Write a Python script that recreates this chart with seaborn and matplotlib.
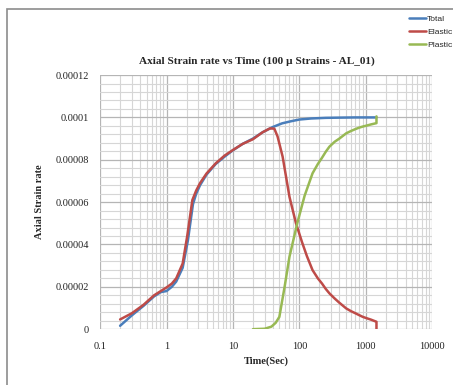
import numpy as np
import pandas as pd
import seaborn as sns
import matplotlib.pyplot as plt
import matplotlib.ticker as mticker
from matplotlib.patches import Rectangle

sns.set_theme(style="white")
plt.rcParams['font.family'] = ['Liberation Serif', 'DejaVu Serif']

# data
time_total = [0.2, 0.3, 0.45, 0.65, 0.82, 1.0, 1.2, 1.4, 1.75, 2.1, 2.5, 2.8, 3.2, 4, 5.5, 7.5,
              10, 14, 20, 28, 40, 55, 75, 100, 150, 250, 400, 700, 1000, 1450]
total = [1.6e-6, 6.5e-6, 1.1e-5, 1.55e-5, 1.75e-5, 1.8e-5, 2.0e-5, 2.25e-5, 2.9e-5, 4.2e-5, 5.9e-5,
         6.4e-5, 6.8e-5, 7.3e-5, 7.8e-5, 8.15e-5, 8.45e-5, 8.75e-5, 9.0e-5, 9.3e-5, 9.55e-5, 9.72e-5,
         9.82e-5, 9.9e-5, 9.95e-5, 9.98e-5, 9.99e-5, 1.0e-4, 1.0e-4, 1.0e-4]

time_elastic = [0.2, 0.3, 0.45, 0.65, 0.82, 1.0, 1.2, 1.4, 1.75, 2.05, 2.45, 2.8, 3.2, 4, 5.5, 7.5,
                10, 14, 20, 28, 36, 42, 47, 56, 71, 89, 110, 130, 158, 190, 220, 250, 284, 340, 400,
                508, 600, 700, 800, 904, 1050, 1200, 1450, 1450]
elastic = [4.6e-6, 7.5e-6, 1.15e-5, 1.6e-5, 1.8e-5, 1.97e-5, 2.15e-5, 2.4e-5, 3.1e-5, 4.4e-5, 6.1e-5,
           6.55e-5, 6.9e-5, 7.35e-5, 7.83e-5, 8.2e-5, 8.46e-5, 8.75e-5, 8.97e-5, 9.3e-5, 9.48e-5,
           9.47e-5, 9.1e-5, 8.15e-5, 6.25e-5, 5.0e-5, 4.1e-5, 3.45e-5, 2.79e-5, 2.4e-5, 2.15e-5,
           1.9e-5, 1.69e-5, 1.45e-5, 1.25e-5, 9.8e-6, 8.5e-6, 7.5e-6, 6.6e-6, 5.8e-6, 5.1e-6, 4.5e-6,
           3.5e-6, 0]

time_plastic = [20, 30, 38, 44, 50, 60, 71, 93, 120, 158, 190, 220, 250, 284, 340, 400, 508, 600,
                700, 800, 904, 1050, 1200, 1450, 1450]
plastic = [0, 2e-7, 1.2e-6, 3e-6, 5.8e-6, 2.0e-5, 3.42e-5, 5.0e-5, 6.3e-5, 7.36e-5, 7.8e-5, 8.1e-5,
           8.38e-5, 8.62e-5, 8.85e-5, 9.0e-5, 9.25e-5, 9.36e-5, 9.45e-5, 9.52e-5, 9.57e-5, 9.62e-5,
           9.67e-5, 9.73e-5, 1.005e-4]

xticks = [0.1, 1, 10, 100, 1000, 10000]
xtick_labels = ["0.1", "1", "10", "100", "1000", "10000"]
yticks = [0, 0.00002, 0.00004, 0.00006, 0.00008, 0.0001, 0.00012]
ytick_labels = ["0", "0.00002", "0.00004", "0.00006", "0.00008", "0.0001", "0.00012"]

colors = {"Total": "#4A7EBB", "Elastic": "#BE4B48", "Plastic": "#98B954"}

fig = plt.figure(figsize=(4.53, 3.85), dpi=100)
ax = fig.add_axes([0.221, 0.145, 0.733, 0.66])

for name, t, v in [("Total", time_total, total), ("Elastic", time_elastic, elastic),
                   ("Plastic", time_plastic, plastic)]:
    sns.lineplot(x=t, y=v, ax=ax, color=colors[name], lw=1.8, label=name,
                 estimator=None, sort=False)

ax.set_xscale("log")
ax.set_xlim(0.1, 10000)
ax.set_ylim(0, 0.00012)
ax.set_xticks(xticks)
ax.set_xticklabels(xtick_labels)
ax.xaxis.set_minor_locator(mticker.LogLocator(base=10, subs=range(2, 10)))
ax.xaxis.set_minor_formatter(mticker.NullFormatter())
ax.set_yticks(yticks)
ax.set_yticklabels(ytick_labels)
ax.yaxis.set_minor_locator(mticker.MultipleLocator(0.000004))
ax.tick_params(which="both", length=0, labelsize=7.5, colors="#222222")
ax.tick_params(axis="x", pad=9)
ax.tick_params(axis="y", pad=8)
ax.grid(which="major", color="#B5B5B5", lw=0.9)
ax.grid(which="minor", color="#D6D6D6", lw=0.8)
ax.set_axisbelow(True)
for s in ax.spines.values():
    s.set_visible(False)

ax.set_xlabel("Time(Sec)", fontsize=7.5, fontweight="bold", labelpad=4)
ax.set_ylabel("Axial Strain rate", fontsize=7.5, fontweight="bold", labelpad=8)
fig.text(0.566, 0.842, "Axial Strain rate vs Time (100 \u00b5 Strains - AL_01)",
         ha="center", va="center", fontsize=8.1, fontweight="bold")

leg = ax.legend(loc="upper left", bbox_to_anchor=(0.895, 0.97), bbox_transform=fig.transFigure,
                frameon=False, fontsize=6.1, handlelength=2.0, handletextpad=0.15,
                labelspacing=0.6, borderaxespad=0)
for txt in leg.get_texts():
    txt.set_family(['Liberation Sans', 'DejaVu Sans'])

fig.patches.append(Rectangle((7 / 453, -0.1), 1.2, 1 - 9 / 385 + 0.1, transform=fig.transFigure,
                             fill=False, edgecolor="#8C8C8C", lw=1.2))

fig.savefig("out.png", dpi=100)
